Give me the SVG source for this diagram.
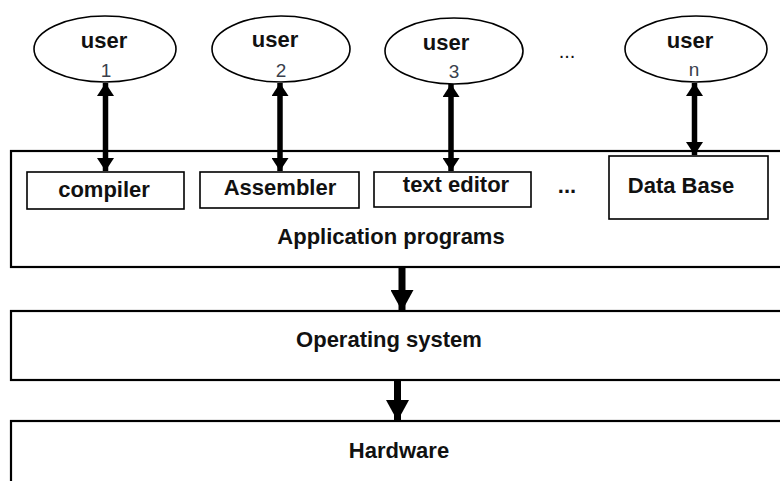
<svg xmlns="http://www.w3.org/2000/svg" width="780" height="481" viewBox="0 0 780 481">
<style>
.box{fill:#fff;stroke:#000;stroke-width:1.6}
.layer{fill:#fff;stroke:#000;stroke-width:2.2}
.ell{fill:#fff;stroke:#000;stroke-width:1.6}
.lbl{font-family:"Liberation Sans",Arial,sans-serif;font-weight:bold;font-size:22px;fill:#111;text-anchor:middle}
.num{font-family:"Liberation Sans",Arial,sans-serif;font-size:19px;fill:#3a3f4c;text-anchor:middle}
.dots{font-family:"Liberation Sans",Arial,sans-serif;font-size:20px;fill:#111;text-anchor:middle}
.shaft{stroke:#000;stroke-width:5.5;fill:none}
.dshaft{stroke:#000;stroke-width:7;fill:none}
</style>
<defs>
<marker id="ah" markerUnits="userSpaceOnUse" markerWidth="13" markerHeight="17" refX="13" refY="8.5" orient="auto-start-reverse" viewBox="0 0 13 17">
<path d="M0,0 L13,8.5 L0,17 Z" fill="#000"/>
</marker>
<marker id="ahd" markerUnits="userSpaceOnUse" markerWidth="21" markerHeight="23" refX="21" refY="11.5" orient="auto" viewBox="0 0 21 23">
<path d="M0,0 L21,11.5 L0,23 Z" fill="#000"/>
</marker>
</defs>

<g id="hardware">
<rect class="layer" x="11" y="421" width="800" height="100"/>
<text class="lbl" x="399" y="458">Hardware</text>
</g>
<g id="os">
<rect class="layer" x="11" y="311" width="800" height="69"/>
<text class="lbl" x="389" y="347">Operating system</text>
</g>
<g id="apps">
<rect class="layer" x="11" y="151" width="800" height="116"/>
<text class="lbl" x="391" y="244">Application programs</text>
</g>
<g id="compiler">
<rect class="box" x="27" y="172" width="157" height="37"/>
<text class="lbl" x="104" y="197">compiler</text>
</g>
<g id="assembler">
<rect class="box" x="200" y="172" width="159" height="36"/>
<text class="lbl" x="280" y="195">Assembler</text>
</g>
<g id="texteditor">
<rect class="box" x="374" y="172" width="157" height="35"/>
<text class="lbl" x="456" y="192">text editor</text>
</g>
<g id="database">
<rect class="box" x="609" y="156" width="159" height="63"/>
<text class="lbl" x="681" y="193">Data Base</text>
</g>
<text class="lbl" x="567" y="193">...</text>

<g id="user1">
<ellipse class="ell" cx="105" cy="49" rx="71" ry="33"/>
<text class="lbl" x="104" y="48">user</text>
<text class="num" x="106" y="77">1</text>
</g>
<g id="user2">
<ellipse class="ell" cx="281" cy="49" rx="69" ry="33"/>
<text class="lbl" x="275" y="47">user</text>
<text class="num" x="281" y="77">2</text>
</g>
<g id="user3">
<ellipse class="ell" cx="454" cy="51" rx="69" ry="33"/>
<text class="lbl" x="446" y="50">user</text>
<text class="num" x="454" y="78">3</text>
</g>
<text class="dots" x="567" y="58">...</text>
<g id="usern">
<ellipse class="ell" cx="696" cy="49" rx="71" ry="33"/>
<text class="lbl" x="690" y="48">user</text>
<text class="num" x="694" y="76">n</text>
</g>

<g id="connectors">
<line class="shaft" x1="105.5" y1="83" x2="105.5" y2="171" marker-start="url(#ah)" marker-end="url(#ah)"/>
<line class="shaft" x1="280" y1="83" x2="280" y2="171" marker-start="url(#ah)" marker-end="url(#ah)"/>
<line class="shaft" x1="451" y1="84" x2="451" y2="171" marker-start="url(#ah)" marker-end="url(#ah)"/>
<line class="shaft" x1="694.5" y1="83" x2="694.5" y2="155" marker-start="url(#ah)" marker-end="url(#ah)"/>
<line class="dshaft" x1="402" y1="268" x2="402" y2="311" marker-end="url(#ahd)"/>
<line class="dshaft" x1="397.5" y1="381" x2="397.5" y2="421" marker-end="url(#ahd)"/>
</g>
</svg>
